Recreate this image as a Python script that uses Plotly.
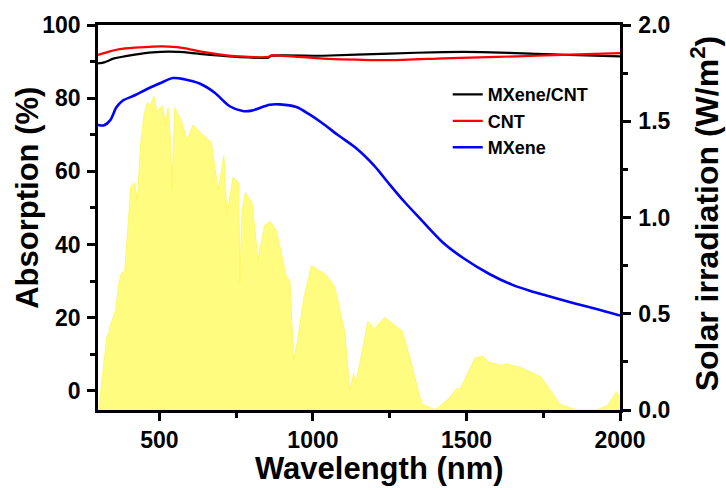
import plotly.graph_objects as go

# ---- data ----
solar_wl = [302, 315, 329, 335, 340, 349, 358, 367, 376, 387, 392, 407, 419, 428, 440, 450, 461, 468,
            482, 492, 510, 519, 528, 536, 541, 550, 572, 590, 609, 634, 669, 680, 691, 710, 720, 740,
            758, 762, 769, 780, 801, 812, 821, 843, 861, 881, 914, 925, 937, 950, 970, 995, 1044, 1071,
            1103, 1120, 1133, 1139, 1163, 1179, 1199, 1234, 1291, 1321, 1353, 1397, 1440, 1467, 1480,
            1527, 1554, 1570, 1592, 1614, 1630, 1679, 1744, 1804, 1858, 1923, 1961, 1988, 2000]
solar_val = [0.0, 0.2, 0.38, 0.40, 0.44, 0.48, 0.52, 0.65, 0.71, 0.72, 0.84, 1.16, 1.18, 1.09, 1.40, 1.53,
             1.60, 1.57, 1.63, 1.55, 1.58, 1.48, 1.57, 1.40, 1.15, 1.57, 1.50, 1.40, 1.48, 1.44, 1.39, 1.27,
             1.14, 1.32, 1.01, 1.21, 1.18, 0.66, 1.03, 1.13, 1.08, 0.92, 0.78, 0.96, 0.98, 0.93, 0.69, 0.67,
             0.26, 0.36, 0.58, 0.75, 0.70, 0.64, 0.41, 0.10, 0.19, 0.13, 0.33, 0.46, 0.42, 0.48, 0.41, 0.24,
             0.035, 0.0, 0.055, 0.11, 0.11, 0.27, 0.28, 0.25, 0.24, 0.23, 0.24, 0.22, 0.17, 0.03, 0.0, 0.0,
             0.025, 0.095, 0.06]

mc_wl = [300, 320, 350, 371, 420, 478, 530, 600, 631, 700, 761, 855, 865, 1033, 1250, 1424, 1550, 1728, 1836, 2000]
mc_val = [89.5, 89.8, 90.8, 91.2, 91.9, 92.5, 92.7, 92.4, 92.1, 91.6, 91.2, 91.1, 91.6, 91.6, 92.2, 92.6, 92.6, 92.1, 91.8, 91.4]

cnt_wl = [300, 330, 371, 420, 478, 530, 580, 631, 700, 761, 855, 865, 1033, 1250, 1424, 1600, 1728, 1836, 2000]
cnt_val = [91.8, 92.6, 93.4, 93.8, 94.1, 94.1, 93.7, 92.8, 91.9, 91.4, 91.3, 91.7, 90.8, 90.4, 90.9, 91.3, 91.6, 91.9, 92.3]

mx_wl = [300, 320, 340, 360, 380, 420, 460, 500, 544, 580, 631, 680, 729, 771, 800, 859, 892, 946, 990,
         1032, 1080, 1141, 1200, 1250, 1300, 1350, 1424, 1488, 1576, 1650, 1706, 1760, 1850, 1923, 2000]
mx_val = [72.7, 72.6, 74.0, 77.5, 79.3, 80.8, 82.5, 84.0, 85.5, 85.2, 84.0, 81.5, 77.8, 76.5, 76.6, 78.2,
          78.3, 77.6, 75.5, 73.1, 70.0, 66.3, 61.5, 56.4, 51.5, 47.0, 40.5, 36.4, 31.9, 29.0, 27.4, 26.1,
          24.0, 22.4, 20.6]

x_ticks = [500, 1000, 1500, 2000]
left_ticks = [0, 20, 40, 60, 80, 100]
right_ticks = [0.0, 0.5, 1.0, 1.5, 2.0]

FONT = "Liberation Sans"
tickfont = dict(family=FONT, size=23, color="black")

fig = go.Figure()

fig.add_trace(go.Scatter(x=solar_wl, y=solar_val, yaxis="y", mode="lines",
                         line=dict(color="#FFF766", width=1), fill="tozeroy",
                         fillcolor="#FFFC80", showlegend=False, hoverinfo="skip"))

fig.add_trace(go.Scatter(x=mc_wl, y=mc_val, yaxis="y2", mode="lines", name="<b>MXene/CNT</b>",
                         line=dict(color="black", width=2.2, shape="spline", smoothing=0.6)))
fig.add_trace(go.Scatter(x=cnt_wl, y=cnt_val, yaxis="y2", mode="lines", name="<b>CNT</b>",
                         line=dict(color="#FF0000", width=2.2, shape="spline", smoothing=0.6)))
fig.add_trace(go.Scatter(x=mx_wl, y=mx_val, yaxis="y2", mode="lines", name="<b>MXene</b>",
                         line=dict(color="#0000FF", width=2.6, shape="spline", smoothing=0.8)))

fig.update_layout(
    width=726, height=490,
    margin=dict(l=98, r=106, t=23, b=80),
    paper_bgcolor="white", plot_bgcolor="white",
    xaxis=dict(range=[300, 2000], tickvals=x_ticks, ticktext=[f"<b>{v}</b>" for v in x_ticks],
               ticks="outside", ticklen=8, tickwidth=2.5, tickcolor="black",
               minor=dict(tickvals=[750, 1250, 1750], ticks="outside", ticklen=5, tickwidth=2.5, tickcolor="black"),
               showline=True, linewidth=2.5, linecolor="black", mirror=True,
               showgrid=False, zeroline=False, tickfont=tickfont),
    xaxis2=dict(range=[300, 2000], overlaying="x", side="top", anchor="y",
                tickvals=x_ticks, ticks="inside", ticklen=4, tickwidth=1.5, tickcolor="black",
                minor=dict(tickvals=[750, 1250, 1750], ticks="inside", ticklen=4, tickwidth=1.5, tickcolor="black"),
                showticklabels=False, showgrid=False, zeroline=False, showline=False),
    yaxis=dict(range=[0, 2.0], side="right", tickvals=right_ticks,
               ticktext=[f"<b>{v:.1f}</b>" for v in right_ticks],
               ticks="outside", ticklen=8, tickwidth=2.5, tickcolor="black",
               minor=dict(tickvals=[0.25, 0.75, 1.25, 1.75], ticks="outside", ticklen=5, tickwidth=2.5, tickcolor="black"),
               showline=True, linewidth=2.5, linecolor="black",
               showgrid=False, zeroline=False, tickfont=tickfont, ticklabelstandoff=3),
    yaxis2=dict(range=[-5.2, 100], side="left", overlaying="y", tickvals=left_ticks,
                ticktext=[f"<b>{v}</b>" for v in left_ticks],
                ticks="outside", ticklen=8, tickwidth=2.5, tickcolor="black",
                minor=dict(tickvals=[10, 30, 50, 70, 90], ticks="outside", ticklen=5, tickwidth=2.5, tickcolor="black"),
                showline=True, linewidth=2.5, linecolor="black",
                showgrid=False, zeroline=False, tickfont=tickfont, ticklabelstandoff=2),
    legend=dict(x=0.67, y=0.867, xanchor="left", yanchor="top", bgcolor="rgba(0,0,0,0)",
                font=dict(family=FONT, size=18, color="black"), tracegroupgap=0, itemwidth=30),
    showlegend=True,
    annotations=[
        dict(text="<b>Wavelength (nm)</b>", xref="paper", yref="paper", x=0.54, y=-0.153,
             xanchor="center", yanchor="middle", showarrow=False,
             font=dict(family=FONT, size=31, color="black")),
        dict(text="<b>Absorption (%)</b>", xref="paper", yref="paper", x=-0.135, y=0.55,
             xanchor="center", yanchor="middle", showarrow=False, textangle=-90,
             font=dict(family=FONT, size=31, color="black")),
        dict(text="<b>Solar irradiation (W/m<sup>2</sup>)</b>", xref="paper", yref="paper", x=1.163, y=0.511,
             xanchor="center", yanchor="middle", showarrow=False, textangle=-90,
             font=dict(family=FONT, size=32, color="black")),
    ],
)

fig.write_html("out.html")
